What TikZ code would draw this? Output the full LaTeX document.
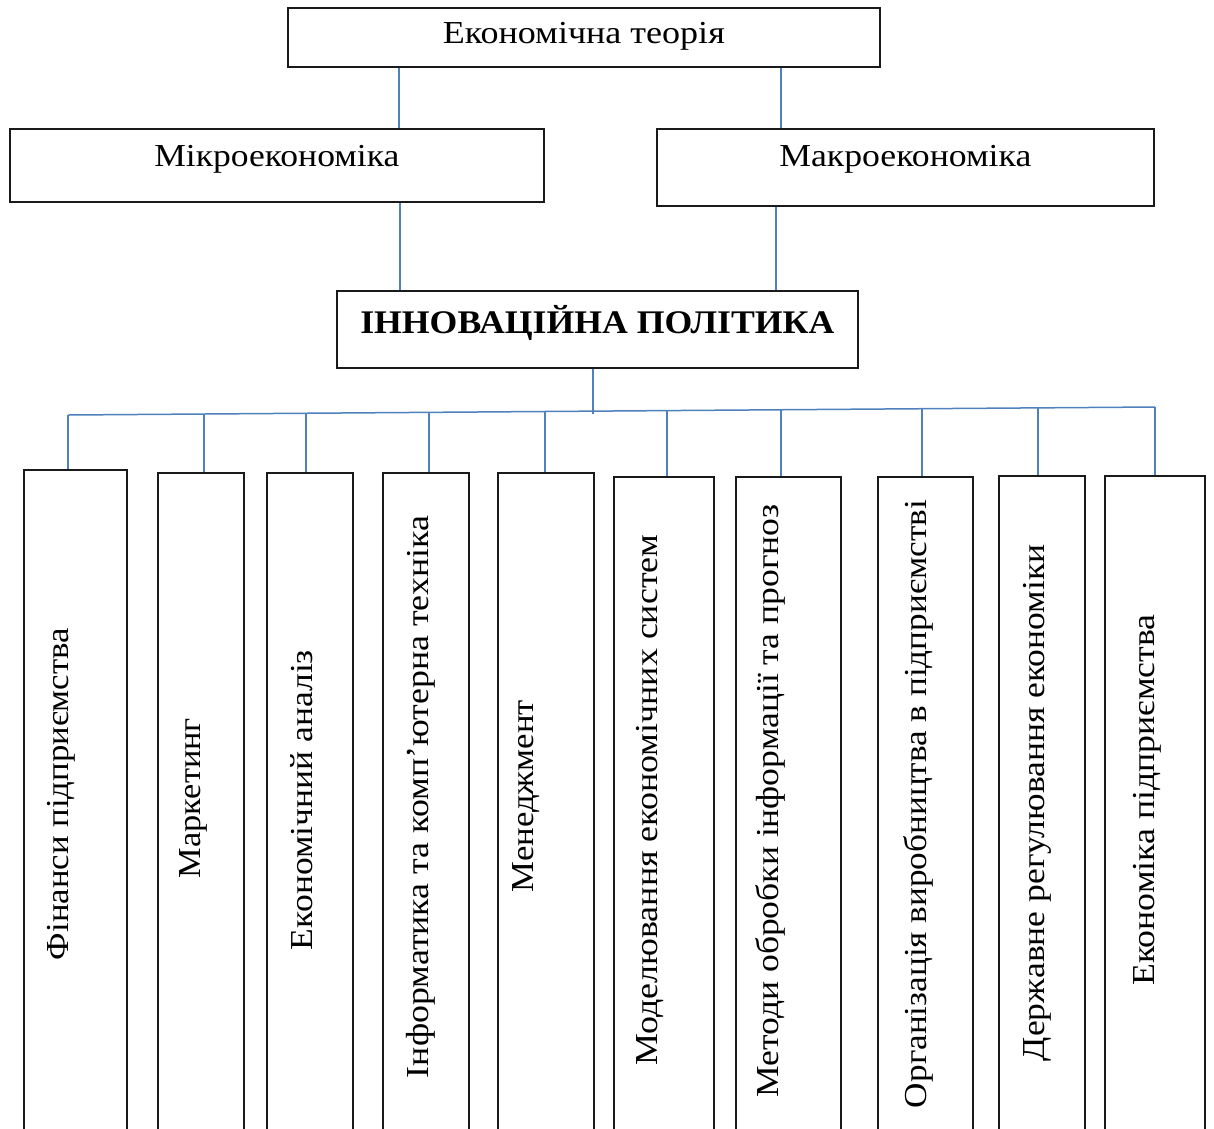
\documentclass[tikz,border=0pt]{standalone}
\usepackage{fontspec}
\setmainfont{Liberation Serif}
\usepackage{graphicx}
\definecolor{boxline}{HTML}{1A1A1A}
\definecolor{connblue}{HTML}{4F81BD}
\newcommand{\stretchto}[2]{\resizebox{#1}{\height}{#2}}
\tikzset{
  box/.style={draw=boxline, line width=1.6pt, fill=white, inner sep=0pt, anchor=north west},
  conn/.style={draw=connblue, line width=1.5pt},
  htext/.style={font=\fontsize{32}{38}\selectfont},
  btext/.style={font=\fontsize{33}{40}\selectfont\bfseries},
  vtext/.style={rotate=90, anchor=base, inner sep=0pt, font=\fontsize{32}{38}\selectfont},
}
\begin{document}
\begin{tikzpicture}[x=1pt,y=-1pt]
\useasboundingbox (0,0) rectangle (1214,1128);
\fill[white] (0,0) rectangle (1214,1128);
\clip (0,0) rectangle (1214,1128);

% upper boxes
\node[box, htext, minimum width=592pt, text height=36pt, text depth=23pt] (top) at (287,7) {\stretchto{282pt}{Економічна теорія}};
\node[box, htext, minimum width=534pt, text height=38pt, text depth=35pt] (micro) at (9,128) {\stretchto{245pt}{Мікроекономіка}};
\node[box, htext, minimum width=497pt, text height=38pt, text depth=39pt] (macro) at (656,128) {\stretchto{252pt}{Макроекономіка}};
\node[box, btext, minimum width=521pt, text height=43pt, text depth=34pt] (innov) at (336,290) {\stretchto{474pt}{ІННОВАЦІЙНА ПОЛІТИКА}};

% lower boxes
\node[box, minimum width=103pt, minimum height=680pt] (b1) at (23,469) {};
\node[box, minimum width=86pt, minimum height=680pt] (b2) at (157,472) {};
\node[box, minimum width=86pt, minimum height=680pt] (b3) at (266,472) {};
\node[box, minimum width=86pt, minimum height=680pt] (b4) at (382,472) {};
\node[box, minimum width=96pt, minimum height=680pt] (b5) at (497,472) {};
\node[box, minimum width=100pt, minimum height=680pt] (b6) at (613,476) {};
\node[box, minimum width=105pt, minimum height=680pt] (b7) at (735,476) {};
\node[box, minimum width=95pt, minimum height=680pt] (b8) at (877,476) {};
\node[box, minimum width=86pt, minimum height=680pt] (b9) at (998,475) {};
\node[box, minimum width=100pt, minimum height=680pt] (b10) at (1104,475) {};

% vertical texts
\node[vtext] (t1) at (68,794) {\stretchto{332pt}{Фінанси підприємства}};
\node[vtext] (t2) at (200,798) {\stretchto{160pt}{Маркетинг}};
\node[vtext] (t3) at (312,800) {\stretchto{300pt}{Економічний аналіз}};
\node[vtext] (t4) at (428,797) {\stretchto{562pt}{Інформатика та комп’ютерна техніка}};
\node[vtext] (t5) at (533,796) {\stretchto{192pt}{Менеджмент}};
\node[vtext] (t6) at (657,800) {\stretchto{531pt}{Моделювання економічних систем}};
\node[vtext] (t7) at (778,801) {\stretchto{593pt}{Методи обробки інформації та прогноз}};
\node[vtext] (t8) at (926,804) {\stretchto{608pt}{Організація виробництва в підприємстві}};
\node[vtext] (t9) at (1044,803) {\stretchto{517pt}{Державне регулювання економіки}};
\node[vtext] (t10) at (1154,800) {\stretchto{371pt}{Економіка підприємства}};

% connectors
\draw[conn] (399,0 |- top.south) -- (399,0 |- micro.north);
\draw[conn] (781,0 |- top.south) -- (781,0 |- macro.north);
\draw[conn] (400,0 |- micro.south) -- (400,0 |- innov.north);
\draw[conn] (776,0 |- macro.south) -- (776,0 |- innov.north);

\coordinate (busL) at (68,415);
\coordinate (busR) at (1155,407);
\coordinate (hub) at (593,414);
\coordinate (d2) at (204,414.0);
\coordinate (d3) at (306,413.3);
\coordinate (d4) at (429,412.4);
\coordinate (d5) at (545,411.5);
\coordinate (d6) at (667,410.6);
\coordinate (d7) at (781,409.8);
\coordinate (d8) at (922,408.7);
\coordinate (d9) at (1038,407.9);

\draw[conn] (hub |- innov.south) -- (hub);
\draw[conn] (busL) -- (busR);
\draw[conn] (busL) -- (busL |- b1.north);
\draw[conn] (d2) -- (d2 |- b2.north);
\draw[conn] (d3) -- (d3 |- b3.north);
\draw[conn] (d4) -- (d4 |- b4.north);
\draw[conn] (d5) -- (d5 |- b5.north);
\draw[conn] (d6) -- (d6 |- b6.north);
\draw[conn] (d7) -- (d7 |- b7.north);
\draw[conn] (d8) -- (d8 |- b8.north);
\draw[conn] (d9) -- (d9 |- b9.north);
\draw[conn] (busR) -- (busR |- b10.north);
\end{tikzpicture}
\end{document}
